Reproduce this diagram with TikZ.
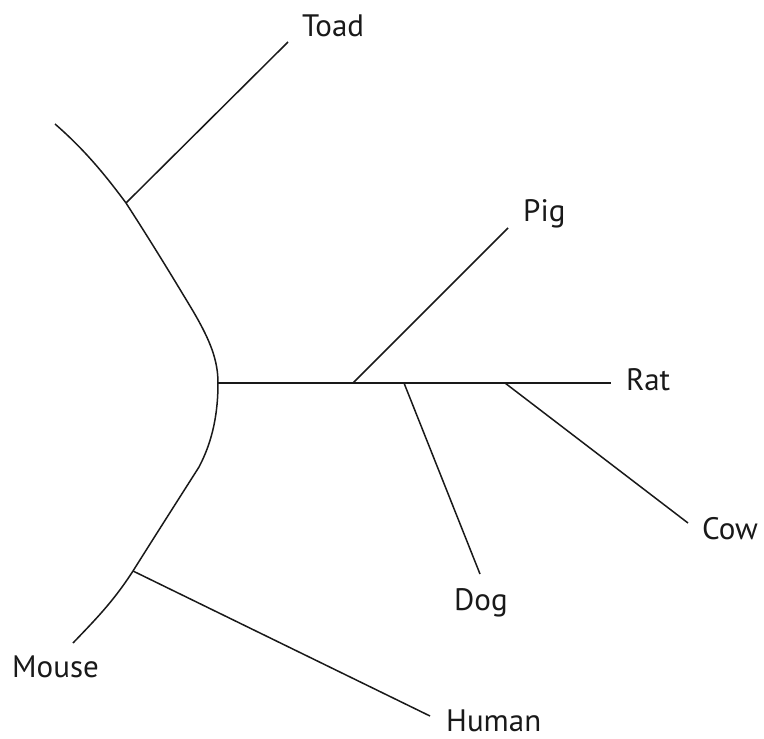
\documentclass[tikz,border=0pt]{standalone}
\usepackage{fontspec}
\setmainfont{PT Sans}
\begin{document}
\begin{tikzpicture}[x=1pt,y=-1pt,
  edge/.style={line width=1.5pt, draw=black!90},
  lab/.style={anchor=base west, inner sep=0pt, font=\fontsize{31}{36}\selectfont, text=black!90}]
\useasboundingbox (0,0) rectangle (764,739);
% curve points
\coordinate (top) at (55,124);
\coordinate (ctoad) at (126,203);
\coordinate (up) at (193,311);
\coordinate (root) at (218,383);
\coordinate (lo) at (199,467);
\coordinate (chum) at (133,571);
\coordinate (mouseend) at (73,643);
% internal nodes on horizontal
\coordinate (cpig) at (353,383);
\coordinate (cdog) at (404,383);
\coordinate (ccow) at (505,383);
% leaf ends
\coordinate (toadend) at (288,42);
\coordinate (pigend) at (508,228);
\coordinate (ratend) at (611,383);
\coordinate (cowend) at (688,523);
\coordinate (dogend) at (480,574);
\coordinate (humanend) at (430,716);
% labels
\node[lab] (toad) at (302,36) {Toad};
\node[lab] (pig) at (523,221) {Pig};
\node[lab] (rat) at (626,390) {Rat};
\node[lab] (cow) at (702,539) {Cow};
\node[lab] (dog) at (454,610) {Dog};
\node[lab] (human) at (446,731) {Human};
\node[lab] (mouse) at (12,677) {Mouse};
% tree
\draw[edge] (top) .. controls (85,150) and (106,176) .. (ctoad)
  .. controls (150,240) and (172,276) .. (up)
  .. controls (210,340) and (218,360) .. (root)
  .. controls (218,420) and (210,446) .. (lo)
  .. controls (178,500) and (155,536) .. (chum)
  .. controls (113,602) and (95,620) .. (mouseend);
\draw[edge] (ctoad) -- (toadend);
\draw[edge] (root) -- (ratend);
\draw[edge] (cpig) -- (pigend);
\draw[edge] (cdog) -- (dogend);
\draw[edge] (ccow) -- (cowend);
\draw[edge] (chum) -- (humanend);
\end{tikzpicture}
\end{document}
